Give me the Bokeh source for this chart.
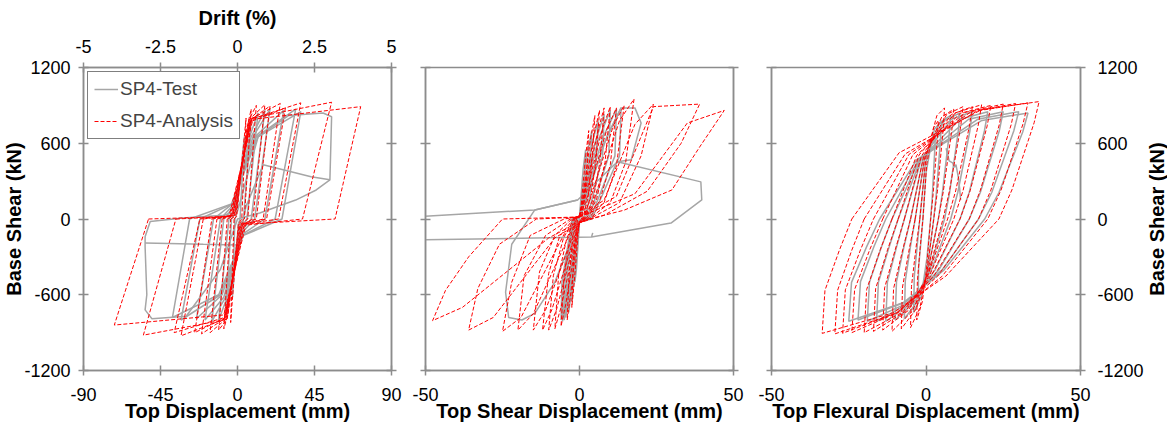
import math
from bokeh.plotting import figure
from bokeh.layouts import row
from bokeh.models import Range1d, LinearAxis, FixedTicker, CustomJSTickFormatter, Legend, LegendItem, Label
from bokeh.embed import file_html
from bokeh.resources import INLINE

FONT = "Liberation Sans"
AXC = "#8c8c8c"
GRAY = "#a6a6a6"
RED = "#ff0000"

# ---------------- shared ticks ----------------
SHEAR_TICKS = [-1200, -600, 0, 600, 1200]
SHEAR_LABELS = ["-1200", "-600", "0", "600", "1200"]
TOP_TICKS = [-90, -45, 0, 45, 90]
TOP_LABELS = ["-90", "-45", "0", "45", "90"]
DRIFT_TICKS = [-5, -2.5, 0, 2.5, 5]
DRIFT_LABELS = ["-5", "-2.5", "0", "2.5", "5"]
PART_TICKS = [-50, 0, 50]
PART_LABELS = ["-50", "0", "50"]

# ---------------- Panel 1: top displacement ----------------
A1_dp = [5, 8, 11, 16, 19, 25, 28, 37, 55, 72]
A1_Fp = [800, 870, 900, 905, 895, 915, 880, 920, 925, 890]
A1_zp = [2.5, 4, 6, 9, 11, 15, 17, 24, 38, 57]
A1_dn = [-4, -8, -11, -16, -21, -25, -33, -37, -55, -72]
A1_Fn = [-820, -870, -880, -900, -910, -900, -925, -900, -920, -840]
A1_zn = [-2, -4, -6, -9, -12, -15, -20, -22, -36, -52]
A1_sxp = [-0.5, -1, -1.5, -2, -2.5, -3, -3, -4, -4, -5]
A1_sp = [20, 25, 30, 30, 30, 25, 30, 25, 20, 20]
A1_kpd = [3.5, 5.5, 6.5, 7, 7, 7.5, 7.5, 8, 8.5, 9]
A1_kpF = [580, 720, 780, 790, 780, 790, 770, 790, 800, 790]
A1_sxn = [0.5, 1, 1.5, 2, 2.5, 3, 3, 4, 4, 5]
A1_sn = [-40, -40, -45, -50, -40, -45, -40, -40, -50, -40]
A1_knd = [-3, -5.5, -6, -6.5, -6.5, -7, -7, -7.5, -8, -8]
A1_knF = [-640, -750, -790, -790, -780, -780, -790, -780, -800, -760]

T1_dp = [4, 8, 12, 16, 19, 27, 34, 37]
T1_Fp = [650, 790, 840, 860, 870, 860, 870, 850]
T1_zp = [1.5, 3.5, 5.5, 8, 10, 16, 22, 26]
T1_dn = [-3, -7, -11, -15, -19, -24, -33, -38]
T1_Fn = [-620, -760, -800, -810, -800, -790, -800, -780]
T1_zn = [-1.5, -3.5, -5, -8, -10, -14, -22, -28]
T1_sxp = [-0.5, -1, -1.5, -2, -2.5, -3, -3, -3.5]
T1_sp = [40, 60, 80, 100, 110, 120, 120, 120]
T1_kpd = [2.5, 5, 7, 8, 9, 10, 11, 12]
T1_kpF = [450, 600, 650, 650, 650, 650, 650, 650]
T1_sxn = [0.5, 1, 1.5, 2, 2.5, 3, 3, 3.5]
T1_sn = [-40, -60, -80, -100, -110, -120, -130, -130]
T1_knd = [-2, -4.5, -6, -7, -8, -9, -10, -11]
T1_knF = [-450, -580, -620, -620, -620, -600, -600, -600]
T1_last_x = [0, 12, 30, 50, 55, 54, 46, 34, 13, 0, -10, -30, -50, -54, -53, -54, -54, -51, -32, -8, 0]
T1_last_y = [60, 650, 820, 840, 810, 310, 230, 150, 48, 0, -400, -770, -790, -720, -600, -220, -140, -20, 8, 30, 60]
T1_tail_x = [-54, -20, 0, 5, 15, 43, 54]
T1_tail_y = [-190, -200, -205, 100, 430, 335, 310]

# ---------------- Panel 2: top shear displacement ----------------
A2_sp = [20, 20, 20, 25, 25, 25, 30, 20, 20, 15, 16]
A2_k1d = [0.5, 0.8, 1, 1.2, 1.5, 2, 3, 4, 8, 12, 18]
A2_k1F = [100, 120, 130, 140, 140, 130, 120, 100, 150, 180, 200]
A2_k2d = [2, 3.5, 4.8, 6, 7.5, 9, 11, 13, 18, 24, 35]
A2_k2F = [500, 620, 680, 700, 720, 720, 740, 780, 750, 890, 760]
A2_dp = [3, 5, 6.5, 8, 10, 12, 14.5, 17.7, 24, 39, 47]
A2_Fp = [700, 820, 860, 880, 890, 880, 900, 950, 910, 910, 860]
A2_u1d = [2.4, 4, 5.3, 6.6, 8.3, 10, 12, 15, 20, 33, 39]
A2_u1F = [400, 450, 450, 450, 450, 430, 420, 450, 500, 600, 570]
A2_u2d = [1.6, 2.8, 3.6, 4.5, 5.5, 6.5, 8, 10, 13, 22, 30]
A2_u2F = [150, 170, 170, 160, 150, 140, 130, 130, 130, 220, 230]
A2_zpd = [0.6, 1, 1.2, 1.5, 1.8, 2, 2.5, 3, 4, 8, 14.5]
A2_zpF = [0, 0, 0, 0, 0, 0, 0, 0, 10, 30, 70]
A2_sn = [-20, -20, -25, -25, -25, -30, -30, -30, -30, -30, -20]
A2_n1d = [-0.4, -0.6, -0.8, -1, -1.2, -1.5, -2, -3, -5, -8, -10]
A2_n1F = [-100, -120, -130, -140, -140, -130, -120, -110, -120, -150, -150]
A2_n2d = [-1.7, -3, -4.5, -6, -7.5, -9, -11, -15, -19, -28, -38]
A2_n2F = [-500, -620, -680, -700, -720, -720, -720, -750, -780, -780, -700]
A2_dn = [-2.5, -4, -6, -8, -10, -12, -15, -20, -25, -36, -47.7]
A2_Fn = [-700, -800, -850, -870, -880, -880, -880, -880, -890, -880, -805]
A2_v1d = [-2.1, -3.4, -5, -6.8, -8.5, -10, -13, -18, -22, -33, -43.5]
A2_v1F = [-400, -450, -450, -450, -450, -430, -420, -450, -500, -550, -565]
A2_v2d = [-1.4, -2.3, -3.2, -4.2, -5.2, -6.5, -8, -11, -16, -26, -36]
A2_v2F = [-150, -170, -170, -160, -150, -140, -130, -130, -130, -200, -300]
A2_zn = [-0.6, -1, -1.2, -1.5, -1.8, -2, -2.5, -3, -5, -14, -25]

T2_dp = [2, 4, 6, 8, 10, 12, 13.5]
T2_Fp = [550, 700, 780, 830, 860, 870, 880]
T2_upd = [1.7, 3.5, 5.5, 7.5, 9.5, 11.5, 13]
T2_upF = [350, 450, 500, 500, 500, 500, 500]
T2_zp = [0.8, 1.5, 2, 2.5, 3, 3.5, 4]
T2_sn = [-20, -20, -20, -20, -20, -20, -20]
T2_knd = [-1, -1.8, -2.5, -3.2, -3.6, -4, -4.4]
T2_knF = [-400, -500, -550, -600, -600, -600, -600]
T2_dn = [-1.5, -2.5, -3.5, -4.5, -5, -5.5, -6]
T2_Fn = [-500, -650, -740, -780, -800, -810, -800]
T2_und = [-1.3, -2.2, -3.2, -4.2, -4.7, -5.2, -5.7]
T2_unF = [-350, -450, -500, -500, -500, -500, -500]
T2_zn = [-0.6, -1, -1.4, -1.8, -2, -2.2, -2.4]
T2_sp = [20, 20, 20, 20, 20, 20, 20]
T2_kpd = [1.2, 2.4, 3.6, 5, 6, 7.5, 9]
T2_kpF = [400, 500, 550, 600, 620, 640, 660]
T2_big_x = [0, -8, -14.5, -18.7, -23, -24, -22, -14.5, -0.6, 12.3, 16.8, 20, 18, 13.5, 8, 0]
T2_big_y = [0, -500, -747, -800, -780, -580, -200, 72, 151, 453, 470, 760, 880, 880, 600, 0]
T2_slide_x = [12.3, 39.4, 39.7, 29.7, 3.9, 4.3, 3.9, -55]
T2_slide_y = [453, 294, 151, -32, -143, -110, -143, -167]
T2_back_x = [-55, -14.5, -0.6]
T2_back_y = [16, 72, 151]

# ---------------- Panel 3: top flexural displacement ----------------
A3_zn = [-1, -2, -3.5, -5, -7, -9, -11, -14, -17, -20, -24]
A3_r1d = [0.25, 0, -0.4, -0.75, -1.5, -2.25, -3, -4.25, -5.5, -6.75, -8.7]
A3_r1F = [437, 493, 487, 498, 498, 507, 504, 510, 512, 515, 525]
A3_r2d = [2.45, 3.5, 5.1, 6.7, 8.2, 9.6, 11.1, 12.9, 14.7, 16.6, 18]
A3_r2F = [725, 818, 809, 828, 828, 842, 837, 846, 851, 856, 866]
A3_dp = [4, 6, 9, 12, 15, 18, 21, 25, 29, 33, 36.6]
A3_Fp = [780, 880, 870, 890, 890, 905, 900, 910, 915, 920, 930]
A3_u1d = [3.7, 5.6, 8.4, 11.2, 14, 16.9, 19.8, 23.7, 27.6, 31.4, 35]
A3_u1F = [640, 722, 713, 730, 730, 742, 738, 746, 750, 754, 763]
A3_u2d = [2.3, 3.7, 5.6, 7.6, 9.6, 12, 14.3, 17.6, 21, 24.3, 27.8]
A3_u2F = [195, 220, 218, 222, 222, 226, 225, 228, 229, 230, 230]
A3_zp = [1.5, 2.5, 4, 5.5, 7, 9, 11, 14, 17, 20, 23.6]
A3_s1d = [0.15, 0.25, 0.4, 0.55, 0.7, 1.2, 1.7, 2.6, 3.8, 5.15, 6.4]
A3_s1F = [-400, -430, -435, -445, -440, -445, -450, -450, -452, -455, -453]
A3_s2d = [-1.2, -2, -3.2, -4.4, -5.6, -6.6, -7.6, -8.8, -9.4, -9.7, -10.7]
A3_s2F = [-656, -705, -713, -730, -722, -730, -738, -738, -742, -746, -743]
A3_dn = [-3, -5, -8, -11, -14, -17, -20, -24, -27, -29.5, -33.6]
A3_Fn = [-800, -860, -870, -890, -880, -890, -900, -900, -905, -910, -906]
A3_v1d = [-2.8, -4.7, -7.6, -10.5, -13.4, -16.3, -19.2, -23.1, -26.1, -28.6, -32.7]
A3_v1F = [-496, -533, -539, -552, -546, -552, -558, -558, -561, -564, -565]
A3_v2d = [-1.84, -3.26, -5.4, -7.5, -9.9, -12.4, -14.8, -18.2, -21.2, -24, -28]
A3_v2F = [-216, -232, -235, -240, -238, -240, -243, -243, -244, -246, -245]

T3_zn = [-1, -2, -3.5, -5, -7, -9, -11, -13, -15]
T3_r1d = [0, -0.25, -0.6, -1, -1.5, -1.75, -2, -2.25, -3]
T3_r1F = [364, 431, 459, 470, 476, 476, 476, 476, 470]
T3_r2d = [1.76, 2.83, 4.4, 6, 8.2, 11, 13.8, 16.7, 18.1]
T3_r2F = [605, 716, 763, 781, 790, 790, 790, 790, 781]
T3_dp = [3, 5, 8, 11, 15, 20, 25, 30, 33]
T3_Fp = [650, 770, 820, 840, 850, 850, 850, 850, 840]
T3_u1d = [2.8, 4.7, 7.5, 10.4, 14.2, 18.9, 23.7, 28.4, 31.3]
T3_u1F = [533, 631, 672, 689, 697, 697, 697, 697, 689]
T3_u2d = [2, 3.3, 5.3, 7.65, 10.3, 14, 17.6, 21.3, 23.6]
T3_u2F = [162, 192, 205, 210, 212, 212, 212, 212, 210]
T3_zp = [1.5, 2.5, 4, 6, 8, 11, 14, 17, 19]
T3_s1d = [0.3, 0.55, 0.7, 1.2, 1.7, 2.9, 4.1, 5.3, 5.8]
T3_s1F = [-310, -370, -395, -400, -405, -405, -405, -400, -405]
T3_s2d = [-0.9, -1.4, -2.6, -3.6, -4.6, -5.2, -5.8, -6.4, -7.4]
T3_s2F = [-508, -607, -648, -656, -664, -664, -664, -656, -664]
T3_dn = [-2.5, -4, -7, -10, -13, -16, -19, -22, -25]
T3_Fn = [-620, -740, -790, -800, -810, -810, -810, -800, -810]
T3_v1d = [-2.4, -3.8, -6.7, -9.55, -12.5, -15.4, -18.3, -21.2, -24.1]
T3_v1F = [-384, -459, -490, -496, -502, -502, -502, -496, -502]
T3_v2d = [-1.6, -2.8, -5, -7.1, -9.5, -11.9, -14.4, -16.8, -19.2]
T3_v2F = [-167, -200, -213, -216, -219, -219, -219, -216, -219]
T3_drop_x = [6.5, 7.5, 8.6, 9.2, 9.7, 10.4, 10.9, 11.2]
T3_drop_y = [560, 460, 445, 410, 430, 340, 240, 150]


def loops(xcols, ycols):
    """Join key-point columns into one polyline per cycle."""
    xs = [list(v) for v in zip(*xcols)]
    ys = [list(v) for v in zip(*ycols)]
    return xs, ys


def zeros(k):
    return [0] * k


def style_axis(ax, ticks, labels, show=True):
    ax.ticker = FixedTicker(ticks=ticks)
    ax.axis_line_color = AXC
    ax.axis_line_width = 1.5
    ax.major_tick_line_color = AXC
    ax.major_tick_line_width = 1.5
    ax.major_tick_in = 5
    ax.major_tick_out = 5
    ax.minor_tick_line_color = None
    ax.major_label_text_font = FONT
    ax.major_label_text_font_size = "18px"
    ax.major_label_text_color = "black"
    if show:
        ax.major_label_overrides = {t: l for t, l in zip(ticks, labels)}
    else:
        ax.formatter = CustomJSTickFormatter(code="return ''")
        ax.major_label_standoff = 0
    ax.axis_label_text_font = FONT
    ax.axis_label_text_font_size = "20px"
    ax.axis_label_text_font_style = "bold"
    ax.axis_label_text_color = "black"


def make_fig(fw, fh, left, right, xr):
    p = figure(frame_width=fw, frame_height=fh, x_range=Range1d(*xr), y_range=Range1d(-1200, 1200),
               output_backend="svg", toolbar_location=None,
               min_border_left=left, min_border_right=right, min_border_top=67, min_border_bottom=55)
    p.grid.visible = False
    p.outline_line_color = AXC
    p.outline_line_width = 1.5
    p.background_fill_color = "white"
    p.border_fill_color = "white"
    return p


def bottom_axis(p, ticks, labels, title):
    ax = p.xaxis[0]
    style_axis(ax, ticks, labels)
    ax.axis_label = title
    ax.major_label_standoff = 12
    ax.axis_label_standoff = -4


# ---------- figure 1 ----------
p1 = make_fig(308, 303, 80, 16, (-90, 90))
bottom_axis(p1, TOP_TICKS, TOP_LABELS, "Top Displacement (mm)")
style_axis(p1.yaxis[0], SHEAR_TICKS, SHEAR_LABELS)
p1.yaxis[0].axis_label = "Base Shear (kN)"
p1.yaxis[0].major_label_standoff = 8
p1.yaxis[0].axis_label_standoff = -4
p1.extra_x_ranges = {"drift": Range1d(-5, 5)}
top = LinearAxis(x_range_name="drift")
style_axis(top, DRIFT_TICKS, DRIFT_LABELS)
top.axis_label = "Drift (%)"
top.major_label_standoff = 10
top.axis_label_standoff = 8
p1.add_layout(top, "above")
r1 = LinearAxis()
style_axis(r1, SHEAR_TICKS, SHEAR_LABELS, show=False)
p1.add_layout(r1, "right")

n = len(T1_dp)
gx, gy = loops([T1_zn, T1_sxp, T1_kpd, T1_dp, T1_zp, T1_sxn, T1_knd, T1_dn, T1_zn],
               [zeros(n), T1_sp, T1_kpF, T1_Fp, zeros(n), T1_sn, T1_knF, T1_Fn, zeros(n)])
gx += [T1_last_x, T1_tail_x]
gy += [T1_last_y, T1_tail_y]
g1 = p1.multi_line(gx, gy, line_color=GRAY, line_width=1.5)
n = len(A1_dp)
rx, ry = loops([A1_zn, A1_sxp, A1_kpd, A1_dp, A1_zp, A1_sxn, A1_knd, A1_dn, A1_zn],
               [zeros(n), A1_sp, A1_kpF, A1_Fp, zeros(n), A1_sn, A1_knF, A1_Fn, zeros(n)])
a1 = p1.multi_line(rx, ry, line_color=RED, line_width=1, line_dash="4 2")

legend = Legend(items=[LegendItem(label="SP4-Test", renderers=[g1]),
                       LegendItem(label="SP4-Analysis", renderers=[a1])],
                location="top_left")
legend.border_line_color = "black"
legend.border_line_width = 1
legend.background_fill_color = "white"
legend.background_fill_alpha = 1
legend.label_text_font = FONT
legend.label_text_font_size = "19px"
legend.glyph_width = 24
legend.glyph_height = 20
legend.label_height = 20
legend.label_standoff = 2
legend.padding = 6
legend.spacing = 10
legend.margin = 4
p1.add_layout(legend)

# ---------- figure 2 ----------
p2 = make_fig(308, 303, 18, 17, (-50, 50))
bottom_axis(p2, PART_TICKS, PART_LABELS, "Top Shear Displacement (mm)")
style_axis(p2.yaxis[0], SHEAR_TICKS, SHEAR_LABELS, show=False)
r2 = LinearAxis()
style_axis(r2, SHEAR_TICKS, SHEAR_LABELS, show=False)
p2.add_layout(r2, "right")

n = len(T2_dp)
gx, gy = loops([zeros(n), T2_kpd, T2_dp, T2_upd, T2_zp, zeros(n), T2_knd, T2_dn, T2_und, T2_zn, zeros(n)],
               [T2_sp, T2_kpF, T2_Fp, T2_upF, zeros(n), T2_sn, T2_knF, T2_Fn, T2_unF, zeros(n), T2_sp])
gx += [T2_big_x, T2_slide_x, T2_back_x]
gy += [T2_big_y, T2_slide_y, T2_back_y]
p2.multi_line(gx, gy, line_color=GRAY, line_width=1.5)
n = len(A2_dp)
rx, ry = loops([zeros(n), A2_k1d, A2_k2d, A2_dp, A2_u1d, A2_u2d, A2_zpd, zeros(n),
                A2_n1d, A2_n2d, A2_dn, A2_v1d, A2_v2d, A2_zn, zeros(n)],
               [A2_sp, A2_k1F, A2_k2F, A2_Fp, A2_u1F, A2_u2F, A2_zpF, A2_sn,
                A2_n1F, A2_n2F, A2_Fn, A2_v1F, A2_v2F, zeros(n), A2_sp])
p2.multi_line(rx, ry, line_color=RED, line_width=1, line_dash="4 2")

# ---------- figure 3 ----------
p3 = make_fig(309, 303, 21, 60, (-50, 50))
bottom_axis(p3, PART_TICKS, PART_LABELS, "Top Flexural Displacement (mm)")
style_axis(p3.yaxis[0], SHEAR_TICKS, SHEAR_LABELS, show=False)
r3 = LinearAxis()
style_axis(r3, SHEAR_TICKS, SHEAR_LABELS)
r3.major_label_standoff = 12
p3.add_layout(r3, "right")

n = len(T3_dp)
gx, gy = loops([T3_zn, T3_r1d, T3_r2d, T3_dp, T3_u1d, T3_u2d, T3_zp, T3_s1d, T3_s2d, T3_dn, T3_v1d, T3_v2d, T3_zn],
               [zeros(n), T3_r1F, T3_r2F, T3_Fp, T3_u1F, T3_u2F, zeros(n), T3_s1F, T3_s2F, T3_Fn, T3_v1F, T3_v2F, zeros(n)])
gx += [T3_drop_x]
gy += [T3_drop_y]
p3.multi_line(gx, gy, line_color=GRAY, line_width=1.5)
n = len(A3_dp)
rx, ry = loops([A3_zn, A3_r1d, A3_r2d, A3_dp, A3_u1d, A3_u2d, A3_zp, A3_s1d, A3_s2d, A3_dn, A3_v1d, A3_v2d, A3_zn],
               [zeros(n), A3_r1F, A3_r2F, A3_Fp, A3_u1F, A3_u2F, zeros(n), A3_s1F, A3_s2F, A3_Fn, A3_v1F, A3_v2F, zeros(n)])
p3.multi_line(rx, ry, line_color=RED, line_width=1, line_dash="4 2")

# ---------- narrow strip carrying the right-hand axis title (reads bottom-to-top) ----------
p4 = figure(frame_width=21, frame_height=303, x_range=Range1d(0, 1), y_range=Range1d(-1200, 1200),
            output_backend="svg", toolbar_location=None, x_axis_location=None, y_axis_location=None,
            min_border_left=0, min_border_right=0, min_border_top=67, min_border_bottom=55)
p4.grid.visible = False
p4.outline_line_color = None
p4.background_fill_color = "white"
p4.border_fill_color = "white"
p4.add_layout(Label(x=0.5, y=0, text="Base Shear (kN)", angle=math.pi / 2, angle_units="rad",
                    text_align="center", text_baseline="middle", text_font=FONT,
                    text_font_size="20px", text_font_style="bold", text_color="black"))

layout = row(p1, p2, p3, p4)
open("out.html", "w").write(file_html(layout, INLINE))
